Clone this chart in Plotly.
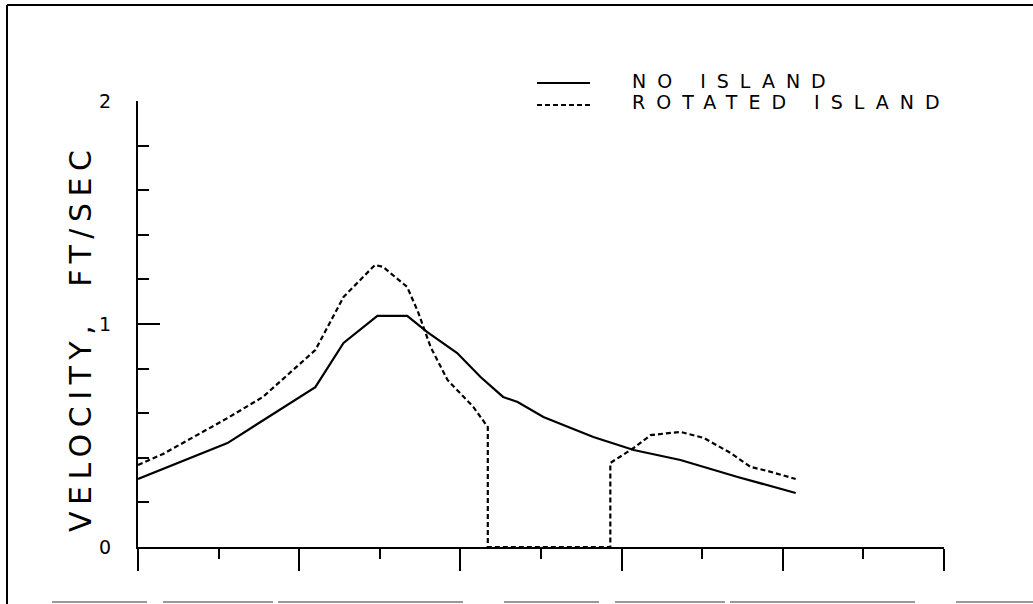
import plotly.graph_objects as go

# ---- data ----
no_island_x = [0.00, 1.11, 2.20, 2.55, 2.97, 3.34, 3.59, 3.96, 4.25, 4.53, 4.71, 5.03, 5.37, 5.65, 6.15, 6.73, 7.44, 8.16]
no_island_y = [0.305, 0.466, 0.717, 0.915, 1.036, 1.036, 0.964, 0.870, 0.762, 0.673, 0.650, 0.583, 0.534, 0.493, 0.435, 0.390, 0.314, 0.242]

rotated_x = [0.00, 0.31, 1.11, 1.55, 2.20, 2.55, 2.94, 3.04, 3.34, 3.48, 3.63, 3.84, 4.16, 4.34, 4.34, 5.86, 5.86, 6.15, 6.36, 6.73, 7.02, 7.35, 7.60, 7.81, 8.16]
rotated_y = [0.368, 0.417, 0.578, 0.673, 0.883, 1.121, 1.265, 1.256, 1.166, 1.049, 0.897, 0.749, 0.628, 0.538, 0.0, 0.0, 0.377, 0.444, 0.502, 0.516, 0.489, 0.422, 0.359, 0.341, 0.305]

series_names = ["NO ISLAND", "ROTATED ISLAND"]
y_title = "VELOCITY,  FT/SEC"
y_tick_values = [0, 1, 2]
y_tick_labels = ["0", "1", "2"]

# ---- layout geometry (pixels) ----
W, H = 1033, 604
L, R, T, B = 138, 89, 101, 57
PW, PH = W - L - R, H - T - B


def px(x):
    return (x - L) / PW


def py(y):
    return (H - B - y) / PH


FONT = "DejaVu Sans"
DASH = "5px,3px"

fig = go.Figure()
fig.add_trace(go.Scatter(x=no_island_x, y=no_island_y, mode="lines",
                         line=dict(color="black", width=2.2), name=series_names[0],
                         showlegend=False))
fig.add_trace(go.Scatter(x=rotated_x, y=rotated_y, mode="lines",
                         line=dict(color="black", width=2.2, dash=DASH), name=series_names[1],
                         showlegend=False))

fig.update_layout(
    width=W, height=H, autosize=False,
    margin=dict(l=L, r=R, t=T, b=B, pad=0),
    plot_bgcolor="white", paper_bgcolor="white",
    font=dict(family=FONT, color="black"),
    xaxis=dict(range=[0, 10], showline=True, linecolor="black", linewidth=2,
               ticks="outside", tickmode="linear", tick0=0, dtick=2, ticklen=22,
               tickwidth=2, tickcolor="black", showticklabels=False,
               showgrid=False, zeroline=False,
               minor=dict(ticks="outside", tickmode="linear", tick0=0, dtick=1,
                          ticklen=10, tickwidth=2, tickcolor="black", showgrid=False)),
    yaxis=dict(range=[0, 2], showline=True, linecolor="black", linewidth=2,
               ticks="inside", tickmode="array", tickvals=y_tick_values, ticktext=y_tick_labels,
               ticklen=22, tickwidth=2, tickcolor="black",
               tickfont=dict(family=FONT, size=19, color="black"),
               ticklabelstandoff=21,
               showgrid=False, zeroline=False,
               minor=dict(ticks="inside", tickmode="linear", tick0=0, dtick=0.2,
                          ticklen=11, tickwidth=2, tickcolor="black", showgrid=False)),
)

shapes = []
# outer frame
shapes.append(dict(type="line", xref="paper", yref="paper", x0=px(7), x1=px(7), y0=py(5), y1=py(H),
                   line=dict(color="black", width=2)))
shapes.append(dict(type="line", xref="paper", yref="paper", x0=px(7), x1=px(W), y0=py(5), y1=py(5),
                   line=dict(color="black", width=2)))
shapes.append(dict(type="line", xref="paper", yref="paper", x0=px(52), x1=px(W), y0=py(602), y1=py(602),
                   line=dict(color="#999999", width=2, dash="95px,16px,110px,5px,185px,41px")))
# legend samples
shapes.append(dict(type="line", xref="paper", yref="paper", x0=px(537), x1=px(590), y0=py(83), y1=py(83),
                   line=dict(color="black", width=2)))
shapes.append(dict(type="line", xref="paper", yref="paper", x0=px(537), x1=px(590), y0=py(105), y1=py(105),
                   line=dict(color="black", width=2, dash=DASH)))
fig.update_layout(shapes=shapes)

annotations = [
    dict(xref="paper", yref="paper", x=px(630), y=py(81), xanchor="left", yanchor="middle",
         text='<span style="letter-spacing:11px">%s</span>' % series_names[0], showarrow=False,
         font=dict(family=FONT, size=19, color="black")),
    dict(xref="paper", yref="paper", x=px(630), y=py(102), xanchor="left", yanchor="middle",
         text='<span style="letter-spacing:11px">%s</span>' % series_names[1], showarrow=False,
         font=dict(family=FONT, size=19, color="black")),
    dict(xref="paper", yref="paper", x=px(80), y=py(338), xanchor="center", yanchor="middle",
         textangle=-90, text='<span style="letter-spacing:6.5px">%s</span>' % y_title, showarrow=False,
         font=dict(family=FONT, size=30, color="black")),
]
fig.update_layout(annotations=annotations)

fig.write_html("out.html", config={"displayModeBar": False},
               post_script="document.body.style.margin='0';document.body.style.overflow='hidden';")
